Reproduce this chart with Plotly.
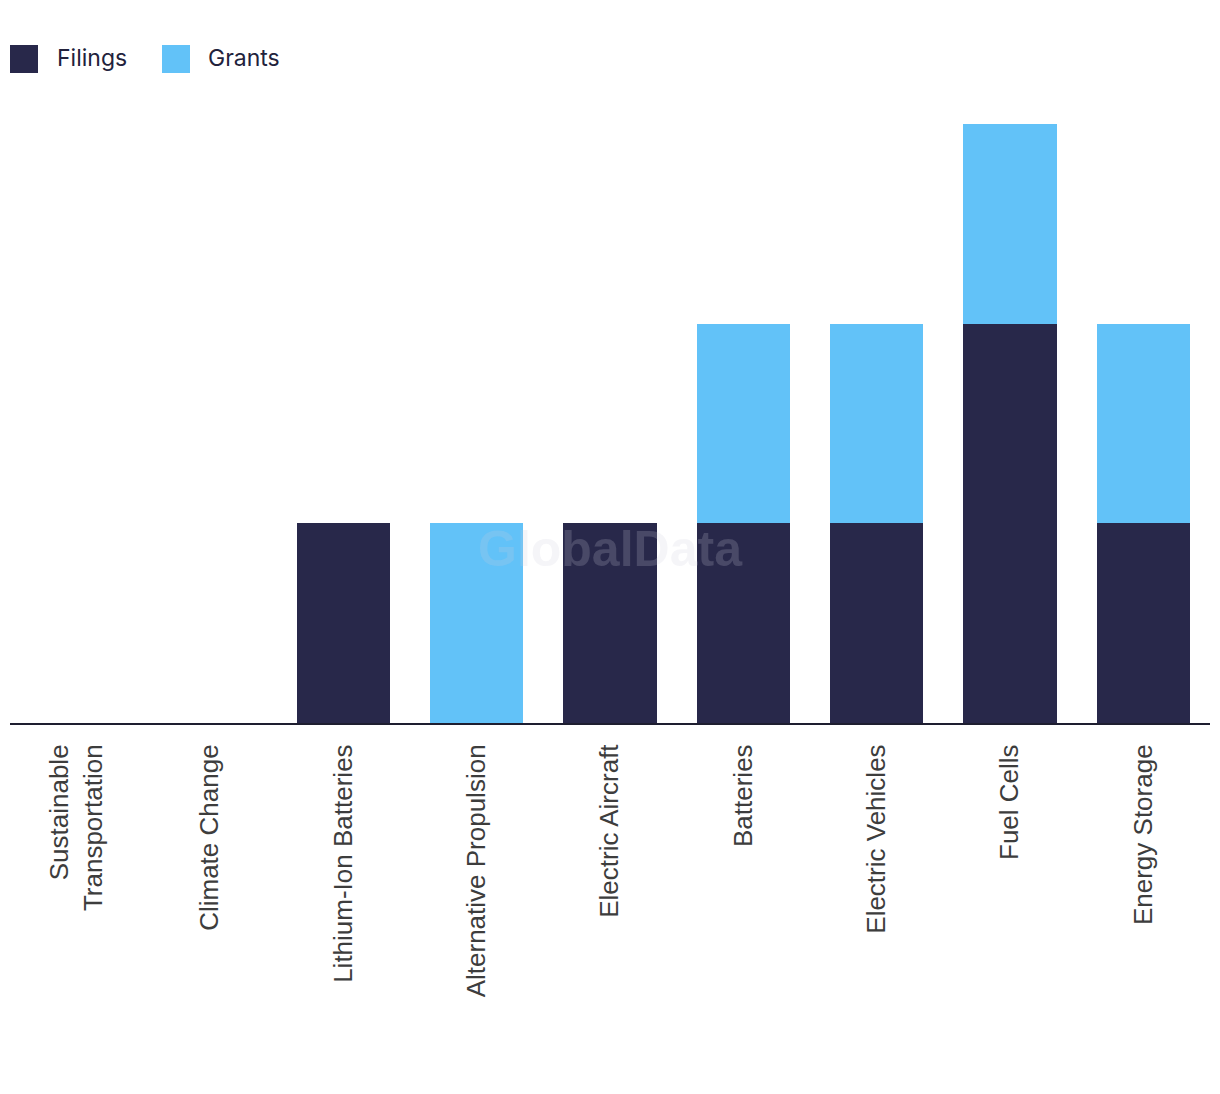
import plotly.graph_objects as go

categories = ["Sustainable<br>Transportation", "Climate Change", "Lithium-Ion Batteries",
              "Alternative Propulsion", "Electric Aircraft", "Batteries",
              "Electric Vehicles", "Fuel Cells", "Energy Storage"]
filings = [0, 0, 1, 0, 1, 1, 1, 2, 1]
grants = [0, 0, 0, 1, 0, 1, 1, 1, 1]

NAVY = "#28284a"
BLUE = "#62c2f8"

PW, PH = 1200, 599  # plot area size
fig = go.Figure()
fig.add_trace(go.Bar(name="Filings", x=categories, y=filings, marker_color=NAVY, marker_line_width=0))
fig.add_trace(go.Bar(name="Grants", x=categories, y=grants, marker_color=BLUE, marker_line_width=0))

fig.update_layout(
    barmode="stack",
    bargap=0.3,
    width=1204, height=1078,
    margin=dict(l=2, r=2, t=116, b=363),
    plot_bgcolor="white", paper_bgcolor="white",
    showlegend=False,
    xaxis=dict(
        tickangle=-90,
        showline=True, linecolor="#1e1e30", linewidth=2,
        showgrid=False, ticks="",
        ticklabelstandoff=9,
        tickfont=dict(family="Liberation Sans, Arial, sans-serif", size=26, color="#3d3d3d"),
    ),
    yaxis=dict(range=[0, 3], visible=False, showgrid=False, zeroline=False),
)

# legend drawn as swatches + labels (reference pixel coords -> paper)
legend_items = [("Filings", NAVY, 10, 55), ("Grants", BLUE, 162, 206)]
for name, col, sx, tx in legend_items:
    fig.add_shape(type="rect", xref="paper", yref="paper",
                  x0=(sx - 10) / PW, x1=(sx + 28 - 10) / PW,
                  y0=(723 - 73) / PH, y1=(723 - 45) / PH,
                  fillcolor=col, line_width=0)
    fig.add_annotation(text=name, xref="paper", yref="paper",
                       x=(tx - 10) / PW, y=(723 - 58) / PH,
                       xanchor="left", yanchor="middle", showarrow=False,
                       font=dict(family="Inter, Roboto, sans-serif", size=23, color="#22223c"))

fig.add_annotation(text="<b>GlobalData</b>", xref="paper", yref="paper",
                   x=0.5, y=(723 - 549) / PH, xanchor="center", yanchor="middle",
                   showarrow=False,
                   font=dict(family="Liberation Sans, Arial, sans-serif", size=50,
                             color="rgba(205,205,220,0.2)"))

fig.write_html("out.html")
